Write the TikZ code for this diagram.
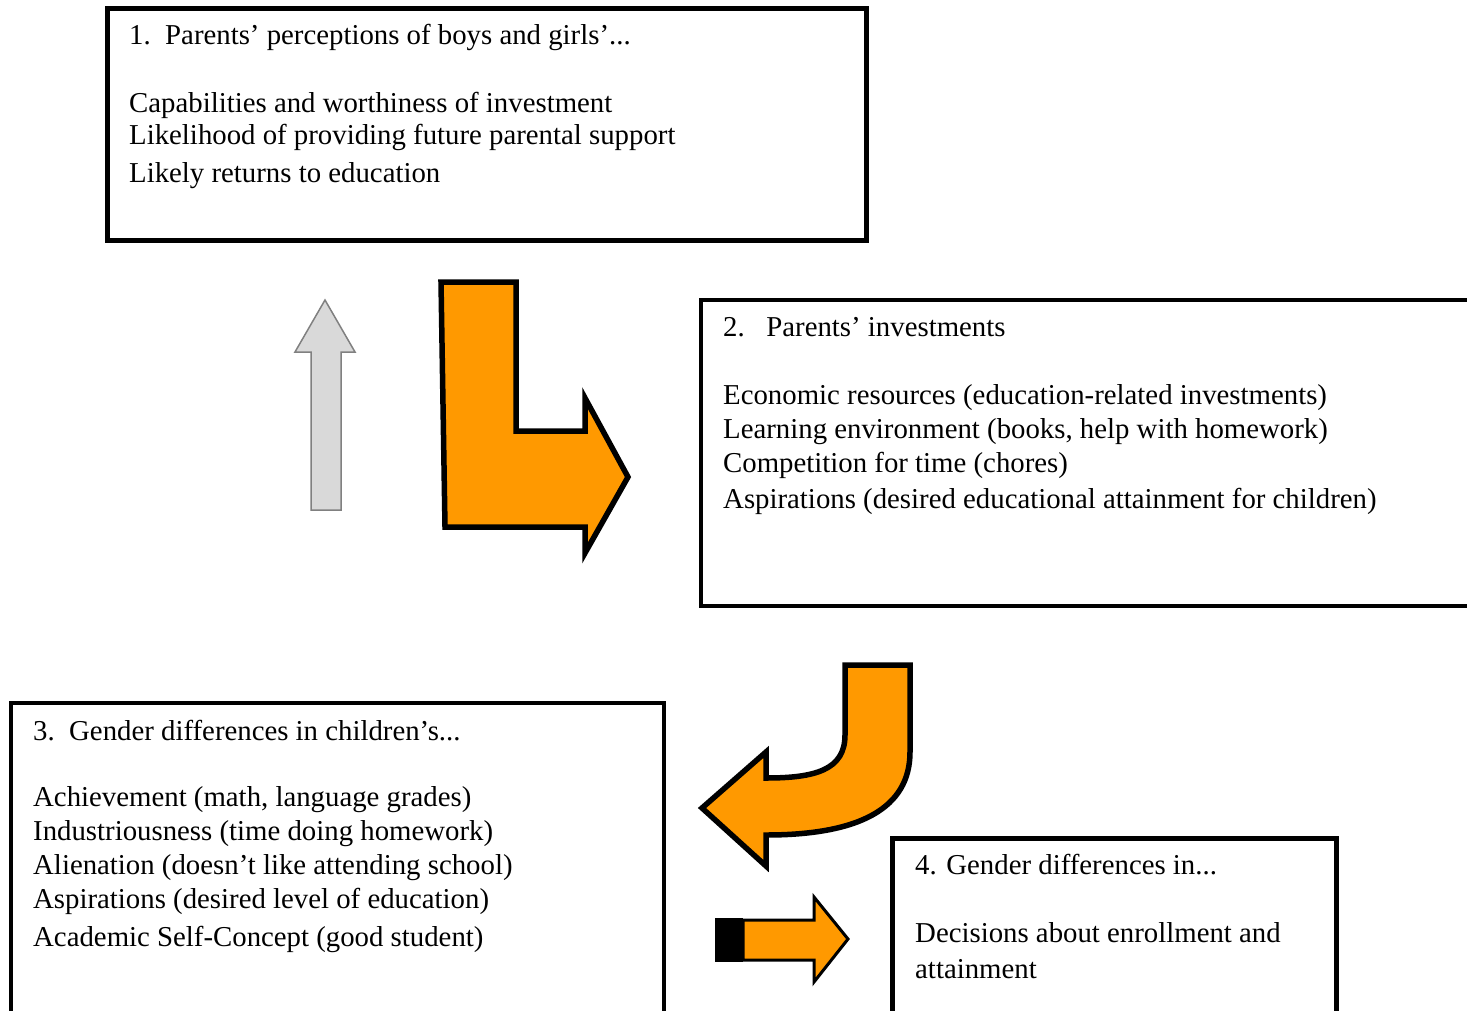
\documentclass[tikz,border=0pt]{standalone}
\usepackage{fontspec}
\setmainfont{Liberation Serif}
\definecolor{orng}{HTML}{FF9900}
\definecolor{lgrey}{HTML}{D9D9D9}
\definecolor{dgrey}{HTML}{808080}
\begin{document}
\begin{tikzpicture}[x=1pt,y=-1pt,
  box/.style={draw=black,line width=4.5pt,fill=white,anchor=north west,inner sep=0pt,outer sep=0pt},
  txt/.style={anchor=mid west,inner sep=0pt,font=\fontsize{28.8}{32}\selectfont},
  bigarrow/.style={fill=orng,draw=black,line width=5.5pt,line join=miter},
  smallarrow/.style={fill=orng,draw=black,line width=3pt,line join=miter},
  greyarrow/.style={fill=lgrey,draw=dgrey,line width=1.5pt}]
\useasboundingbox (0,0) rectangle (1467,1010);
\clip (0,0) rectangle (1467,1010);
% boxes
\node[box,minimum width=759pt,minimum height=232pt] (b1) at (107.5,8.5) {};
\node[box,minimum width=800pt,minimum height=306pt] (b2) at (701,300) {};
\node[box,minimum width=653pt,minimum height=400pt] (b3) at (11,703) {};
\node[box,minimum width=444pt,minimum height=300pt] (b4) at (892.5,838.5) {};
% box 1 text
\node[txt] (t1a) at (129,42) {1.\ \ Parents’ perceptions of boys and girls’...};
\node[txt] (t1b) at (129,110) {Capabilities and worthiness of investment};
\node[txt] (t1c) at (129,142) {Likelihood of providing future parental support};
\node[txt] (t1d) at (129,180) {Likely returns to education};
% box 2 text
\node[txt] (t2a) at (723,334) {2.\ \ \ Parents’ investments};
\node[txt] (t2b) at (723,402) {Economic resources (education-related investments)};
\node[txt] (t2c) at (723,436) {Learning environment (books, help with homework)};
\node[txt] (t2d) at (723,470) {Competition for time (chores)};
\node[txt] (t2e) at (723,506) {Aspirations (desired educational attainment for children)};
% box 3 text
\node[txt] (t3a) at (33,738) {3.\ \ Gender differences in children’s...};
\node[txt] (t3b) at (33,804) {Achievement (math, language grades)};
\node[txt] (t3c) at (33,838) {Industriousness (time doing homework)};
\node[txt] (t3d) at (33,872) {Alienation (doesn’t like attending school)};
\node[txt] (t3e) at (33,906) {Aspirations (desired level of education)};
\node[txt] (t3f) at (33,944) {Academic Self-Concept (good student)};
% box 4 text
\node[txt] (t4a) at (915,872) {4. Gender differences in...};
\node[txt] (t4b) at (915,940) {Decisions about enrollment and};
\node[txt] (t4c) at (915,976) {attainment};
% grey up arrow
\draw[greyarrow] (311,510) -- (311,352) -- (295,352) -- (325,300) -- (355,352) -- (341,352) -- (341,510) -- cycle;
% L-shaped orange arrow
\draw[bigarrow] (441,282) -- (516,282) -- (516,431) -- (585,431) -- (585,398) -- (628,477) -- (585,553) -- (585,527) -- (445,527) -- cycle;
% curved orange arrow
\draw[bigarrow] (845,665) -- (910,665) -- (910,752)
  .. controls (910,808) and (860,835) .. (766,835)
  -- (766,866) -- (702,808) -- (766,752) -- (766,778)
  .. controls (815,778) and (845,770) .. (845,735) -- cycle;
% small arrow with black tail
\fill[black] (715,918) rectangle (743,962);
\draw[smallarrow] (743,920) -- (814,920) -- (814,897) -- (848,939) -- (814,982) -- (814,960) -- (743,960) -- cycle;
\end{tikzpicture}
\end{document}
